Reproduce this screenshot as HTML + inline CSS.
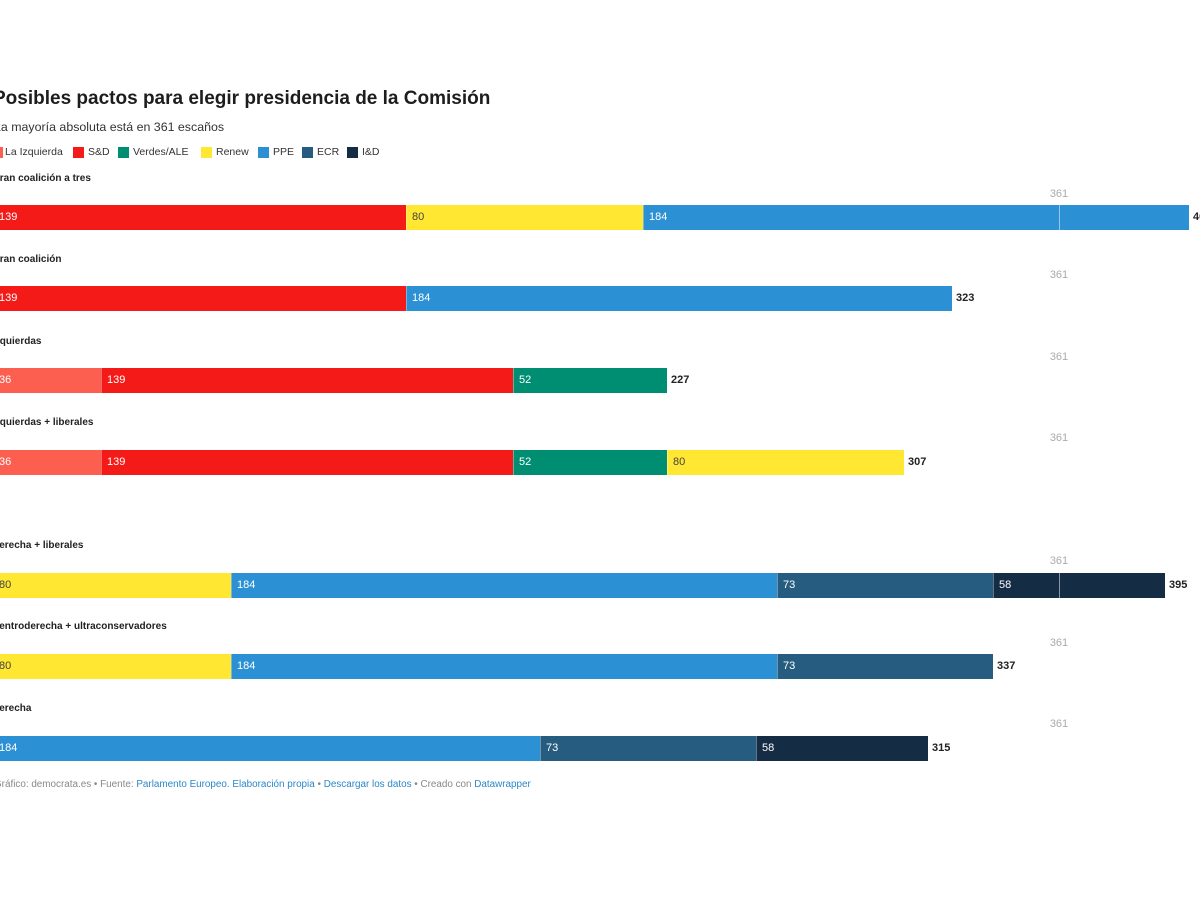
<!DOCTYPE html>
<html><head><meta charset="utf-8"><style>
body{margin:0;width:1200px;height:900px;background:#fff;position:relative;overflow:hidden;font-family:"Liberation Sans",sans-serif;color:#222}
.a{position:absolute;white-space:nowrap}
.t{font-size:19px;font-weight:bold;left:-7px;top:88px;color:#1d1d1d}
.st{font-size:12.4px;left:-6px;top:120px;color:#333}
.lg{top:146px;font-size:10.5px;color:#333}
.sw{position:absolute;width:11px;height:11px;top:147px}
.rt{font-size:10px;font-weight:bold;left:-8px;color:#222}
.s{position:absolute;height:25px;font-size:11px;line-height:25px;color:#fff;box-sizing:border-box;padding-left:5px;border-left:1px solid rgba(255,255,255,.35)}
.y{color:#444}
.tot{position:absolute;font-size:11px;font-weight:bold;line-height:25px;color:#222}
.m{position:absolute;font-size:11px;color:#aaa;width:40px;text-align:center;left:1039px}
.ml{position:absolute;left:1059px;width:1px;height:25px;background:rgba(255,255,255,.5)}
.f{font-size:9.9px;color:#888;left:-6px;top:779px}
.f b{font-weight:normal;color:#2b88c8}
</style></head><body>
<div class="a t">Posibles pactos para elegir presidencia de la Comisión</div>
<div class="a st">La mayoría absoluta está en 361 escaños</div>
<div class="sw" style="left:-8px;background:#fc5e50"></div><div class="a lg" style="left:5px">La Izquierda</div>
<div class="sw" style="left:73px;background:#f31a17"></div><div class="a lg" style="left:88px">S&amp;D</div>
<div class="sw" style="left:118px;background:#008e73"></div><div class="a lg" style="left:133px">Verdes/ALE</div>
<div class="sw" style="left:201px;background:#ffe732"></div><div class="a lg" style="left:216px">Renew</div>
<div class="sw" style="left:258px;background:#2b90d4"></div><div class="a lg" style="left:273px">PPE</div>
<div class="sw" style="left:302px;background:#265c80"></div><div class="a lg" style="left:317px">ECR</div>
<div class="sw" style="left:347px;background:#142c44"></div><div class="a lg" style="left:362px">I&amp;D</div>

<div class="a rt" style="top:173px">Gran coalición a tres</div>
<div class="m" style="top:188px">361</div>
<div class="s" style="top:205px;left:-7px;width:413px;background:#f31a17">139</div>
<div class="s y" style="top:205px;left:406px;width:237px;background:#ffe732">80</div>
<div class="s" style="top:205px;left:643px;width:546px;background:#2b90d4">184</div>
<div class="ml" style="top:205px"></div>
<div class="tot" style="top:205px;left:1193px">403</div>

<div class="a rt" style="top:254px">Gran coalición</div>
<div class="m" style="top:269px">361</div>
<div class="s" style="top:286px;left:-7px;width:413px;background:#f31a17">139</div>
<div class="s" style="top:286px;left:406px;width:546px;background:#2b90d4">184</div>
<div class="tot" style="top:286px;left:956px">323</div>

<div class="a rt" style="top:336px">Izquierdas</div>
<div class="m" style="top:351px">361</div>
<div class="s" style="top:368px;left:-7px;width:108px;background:#fc5e50">36</div>
<div class="s" style="top:368px;left:101px;width:412px;background:#f31a17">139</div>
<div class="s" style="top:368px;left:513px;width:154px;background:#008e73">52</div>
<div class="tot" style="top:368px;left:671px">227</div>

<div class="a rt" style="top:417px">Izquierdas + liberales</div>
<div class="m" style="top:432px">361</div>
<div class="s" style="top:450px;left:-7px;width:108px;background:#fc5e50">36</div>
<div class="s" style="top:450px;left:101px;width:412px;background:#f31a17">139</div>
<div class="s" style="top:450px;left:513px;width:154px;background:#008e73">52</div>
<div class="s y" style="top:450px;left:667px;width:237px;background:#ffe732">80</div>
<div class="tot" style="top:450px;left:908px">307</div>

<div class="a rt" style="top:540px">Derecha + liberales</div>
<div class="m" style="top:555px">361</div>
<div class="s y" style="top:573px;left:-7px;width:238px;background:#ffe732">80</div>
<div class="s" style="top:573px;left:231px;width:546px;background:#2b90d4">184</div>
<div class="s" style="top:573px;left:777px;width:216px;background:#265c80">73</div>
<div class="s" style="top:573px;left:993px;width:172px;background:#142c44">58</div>
<div class="ml" style="top:573px"></div>
<div class="tot" style="top:573px;left:1169px">395</div>

<div class="a rt" style="top:621px">Centroderecha + ultraconservadores</div>
<div class="m" style="top:637px">361</div>
<div class="s y" style="top:654px;left:-7px;width:238px;background:#ffe732">80</div>
<div class="s" style="top:654px;left:231px;width:546px;background:#2b90d4">184</div>
<div class="s" style="top:654px;left:777px;width:216px;background:#265c80">73</div>
<div class="tot" style="top:654px;left:997px">337</div>

<div class="a rt" style="top:703px">Derecha</div>
<div class="m" style="top:718px">361</div>
<div class="s" style="top:736px;left:-7px;width:547px;background:#2b90d4">184</div>
<div class="s" style="top:736px;left:540px;width:216px;background:#265c80">73</div>
<div class="s" style="top:736px;left:756px;width:172px;background:#142c44">58</div>
<div class="tot" style="top:736px;left:932px">315</div>

<div class="a f">Gráfico: democrata.es • Fuente: <b>Parlamento Europeo. Elaboración propia</b> • <b>Descargar los datos</b> • Creado con <b>Datawrapper</b></div>
</body></html>
